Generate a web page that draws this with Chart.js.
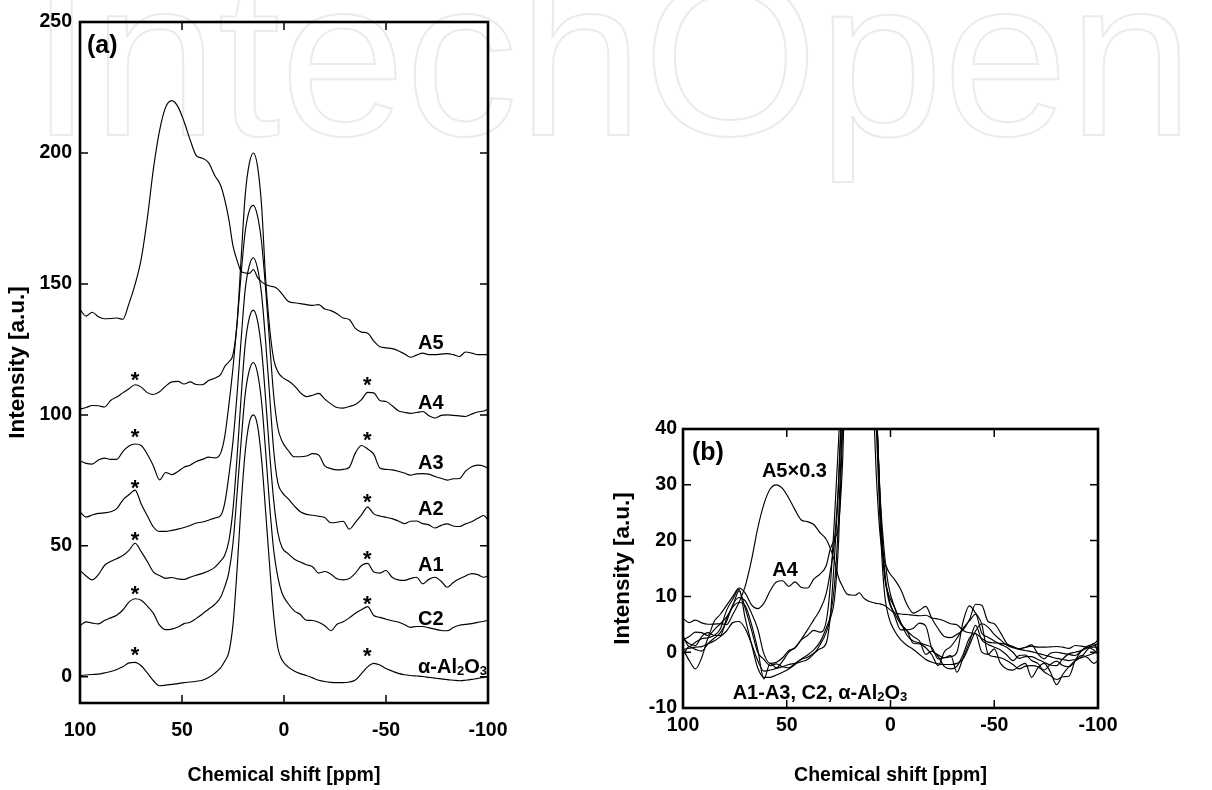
<!DOCTYPE html>
<html>
<head>
<meta charset="utf-8">
<title>27Al MAS NMR spectra</title>
<script src="https://cdn.jsdelivr.net/npm/chart.js@4.4.0/dist/chart.umd.min.js"></script>
<style>
  html, body { margin: 0; padding: 0; background: #fff; }
  body { width: 1212px; height: 790px; position: relative; overflow: hidden; }
  #watermark {
    position: absolute; left: 30px; top: -55px;
    font: 225px/225px "Liberation Sans", Arial, sans-serif;
    color: transparent; -webkit-text-stroke: 2px #ebebeb;
    white-space: nowrap;
  }
  #panelA { position: absolute; left: 0; top: 0; }
  #panelB { position: absolute; left: 600px; top: 380px; }
</style>
</head>
<body>
<div id="watermark">IntechOpen</div>
<canvas id="panelA" width="600" height="790"></canvas>
<canvas id="panelB" width="612" height="410"></canvas>
<script>
// chemical shift grid [ppm], shared by all spectra
var shiftPpm = [100, 97, 94, 91, 88, 85, 82, 79, 76, 73,
  70, 67, 64, 61, 58, 55, 52, 49, 46, 43,
  40, 37, 34, 31, 29, 27, 25, 23, 21, 19,
  17, 15, 13, 11, 9, 7, 5, 3, 1, -2,
  -5, -8, -11, -14, -17, -20, -23, -26, -29, -32,
  -35, -38, -41, -44, -47, -50, -53, -56, -59, -62,
  -65, -68, -71, -74, -77, -80, -83, -86, -89, -92,
  -95, -98, -100];

// spectra without stacking offset (peak at 15 ppm = 100)
var alumina = [0.5, 0.7, 0.9, 1.0, 1.5, 2.0, 2.8, 3.8, 5.3, 5.5,
  4.2, 1.5, -1.5, -3.4, -3.2, -2.9, -2.6, -2.2, -2.0, -1.7,
  -1.3, -0.3, 1.3, 3.5, 6.0, 9.5, 20, 41, 66, 86,
  97, 100, 96, 83, 63, 42, 23, 11, 6.5, 3.8,
  2.2, 1.2, 0.5, -0.4, -1.3, -1.8, -2.1, -2.2, -2.2, -2.0,
  -1.2, 1.2, 3.8, 5.1, 4.5, 3.2, 2.2, 1.3, 0.8, 0.5,
  0.3, 0.1, -0.2, -0.5, -0.8, -1.1, -1.3, -1.5, -1.3, -1.0,
  -0.6, -0.2, 0.1];
var c2 = [-0.5, 1.0, 0.5, 0.2, 1.5, 2.5, 3.5, 5.5, 8.5, 9.8,
  9.2, 7.0, 4.2, -0.3, -2.0, -1.8, -1.0, 0.3, 0.8, 2.3,
  4.0, 5.8, 7.6, 10.5, 14.5, 20, 31, 50, 70, 88,
  97, 100, 96, 85, 66, 45, 28, 18, 12, 8,
  5.2, 3.8, 1.6, 1.5, 0.8, -0.5, -2.4, 0.1, 1.0, 2.5,
  4.3, 5.6, 6.8, 3.4, 2.7, 2.0, 1.4, 0.9, 0.0, -1.1,
  -0.8, -0.8, -1.3, -1.8, -2.3, -2.4, -1.2, -0.3, 0.0, 0.3,
  0.8, 1.2, 1.5];
var a1 = [0.6, -1.5, -3.0, -1.0, 2.5, 4.0, 5.1, 6.3, 8.3, 11.0,
  7.8, 4.0, 0.0, -1.3, -2.4, -2.1, -2.6, -2.8, -2.0, -1.2,
  -0.5, 0.4, 1.8, 4.3, 6.5, 12, 24, 44, 67, 87,
  97, 100, 96, 85, 66, 45, 27, 15, 9.5, 7.0,
  5.0, 3.8, 2.8, 2.0, -0.4, 0.2, -0.8, -2.6, -3.0, -2.5,
  -0.4, 2.5, 3.3, 0.0, -0.4, 0.6, -2.0, -3.0, -3.2, -2.5,
  -2.0, -4.5, -2.8, -2.0, -3.5, -5.8, -4.0, -2.6, -1.5, -0.6,
  -1.0, -2.0, -1.5];
var a2 = [2.9, 1.0, 1.8, 2.4, 2.6, 3.0, 4.2, 7.5, 9.5, 11.3,
  6.0, 1.5, -2.8, -4.5, -4.5, -4.1, -3.6, -3.0, -2.2, -1.3,
  -0.9, -0.2, 0.6, 1.6, 6.5, 17, 30, 48, 69, 88,
  97, 100, 96, 86, 68, 47, 26, 14, 10.5, 8,
  5.3, 3.0, 2.0, 1.7, 1.3, 0.8, -1.2, -1.0, -0.6, -3.6,
  -1.0, 1.8, 4.8, 2.2, 1.4, 0.9, 0.4, -0.5, -1.5, -0.6,
  -0.5, -1.5, -2.0, -3.2, -2.2, -1.6, -2.4, -2.6, -1.6, -0.8,
  0.5, 1.6, -0.2];
var a3 = [2.5, 1.5, 1.2, 2.8, 3.5, 3.0, 3.0, 6.0, 8.1, 8.9,
  8.3, 5.0, 0.5, -4.8, -2.0, -2.8, -1.6, 0.0, 0.8, 2.2,
  3.0, 3.9, 3.6, 5.5, 12, 24, 38, 55, 74, 90,
  98, 100, 96, 86, 68, 47, 27, 15, 10, 6.5,
  4.0, 4.0, 4.3, 5.2, 4.7, 0.5, -0.5, -1.0, -0.8, 0.0,
  5.5, 8.3, 7.0, 5.0, -0.3, -0.8, -1.0, -1.5, -2.2, -3.0,
  -2.5, -2.4, -2.6, -3.5, -4.2, -4.9, -4.4, -4.3, -1.5, 0.2,
  0.8, 0.4, -0.4];
var a4 = [2.2, 2.8, 3.6, 3.5, 3.0, 5.5, 6.8, 8.4, 10.0, 11.5,
  10.6, 8.5, 7.8, 8.8, 11.0, 12.6, 12.8, 11.8, 12.6, 11.6,
  11.5, 13.1, 14.0, 15.5, 18.5, 20.3, 23, 35, 60, 84,
  96, 100, 95, 80, 52, 33, 21, 16.5, 14.5, 13.0,
  11.2, 8.5, 7.0, 7.5, 8.2, 6.0, 4.2, 2.8, 2.6, 3.2,
  4.0, 5.8, 8.6, 8.4, 5.5, 5.1, 3.5, 1.6, 1.0, 0.6,
  0.9, 1.3, -0.3, -1.2, -0.2, 0.0, -0.2, -0.4, -0.6, 0.3,
  1.1, 1.5, 2.2];
var a5 = [20.2, 17.7, 19.2, 17.5, 16.7, 16.8, 17.0, 16.5, 22.5, 29.8,
  39.5, 55, 74, 88.5, 97.5, 100, 97.7, 92, 85, 79,
  78, 76.3, 71.5, 67.5, 62, 54.5, 44.5, 39, 34.8, 34.2,
  34, 35.5, 32.5, 30.8, 29.8, 29.2, 28.9, 28, 26.2, 23.4,
  22.8, 22.5, 22.1, 21.8, 22.1, 20.4, 19.8, 18.6, 17.0, 16.4,
  13.0, 11.6, 11.2, 8.2, 6.0, 5.6, 5.3, 4.5, 3.3, 2.0,
  2.8, 3.6, 3.0, 3.0, 3.2, 3.4, 3.0, 2.3, 4.0, 3.6,
  3.0, 3.0, 3.0];

var sampleNames = ['α-Al2O3', 'C2', 'A1', 'A2', 'A3', 'A4', 'A5'];
var stackOffset = [0, 20, 40, 60, 80, 100, 120];
var a5Scale = 0.3;

var xTicks = [100, 50, 0, -50, -100];
var yTicksA = [0, 50, 100, 150, 200, 250];
var yTicksB = [-10, 0, 10, 20, 30, 40];

// spinning sideband markers (*) above each stacked trace
var starShift = [73, -40.8];
var starLeft = [10.6, 33.6, 54.4, 74.1, 93.6, 115.3];
var starRight = [10.2, 29.8, 47.2, 68.7, 92.7, 113.4];

var FONT = '"Liberation Sans", Arial, Helvetica, sans-serif';
Chart.defaults.font.family = FONT;
Chart.defaults.color = '#000';

var spectra = [alumina, c2, a1, a2, a3, a4, a5];

function lineSet(values, shift, scale) {
  return {
    data: shiftPpm.map(function(x, i) { return {x: x, y: values[i] * scale + shift}; }),
    borderColor: '#000',
    borderWidth: 1.15,
    pointRadius: 0,
    cubicInterpolationMode: 'monotone',
    fill: false
  };
}

// draws the heavy frame and inward tick marks on all four sides
var frameTicks = {
  id: 'frameTicks',
  afterDatasetsDraw: function(chart) {
    var ctx = chart.ctx, a = chart.chartArea, sx = chart.scales.x, sy = chart.scales.y;
    var len = 8;
    ctx.save();
    ctx.strokeStyle = '#000';
    ctx.lineWidth = 1.5;
    ctx.beginPath();
    sx.ticks.forEach(function(t) {
      var p = sx.getPixelForValue(t.value);
      if (p - a.left < 3 || a.right - p < 3) return;
      ctx.moveTo(p, a.bottom); ctx.lineTo(p, a.bottom - len);
      ctx.moveTo(p, a.top); ctx.lineTo(p, a.top + len);
    });
    sy.ticks.forEach(function(t) {
      var p = sy.getPixelForValue(t.value);
      if (p - a.top < 3 || a.bottom - p < 3) return;
      ctx.moveTo(a.left, p); ctx.lineTo(a.left + len, p);
      ctx.moveTo(a.right, p); ctx.lineTo(a.right - len, p);
    });
    ctx.stroke();
    ctx.lineWidth = 2.6;
    ctx.strokeRect(a.left, a.top, a.right - a.left, a.bottom - a.top);
    ctx.restore();
  }
};

// text that may carry subscripts written as _2
function drawRich(ctx, text, x, y, size, align) {
  var parts = [];
  var re = /_(\d)/g, last = 0, m;
  while ((m = re.exec(text)) !== null) {
    if (m.index > last) parts.push({t: text.slice(last, m.index), sub: false});
    parts.push({t: m[1], sub: true});
    last = re.lastIndex;
  }
  if (last < text.length) parts.push({t: text.slice(last), sub: false});
  var big = 'bold ' + size + 'px ' + FONT, small = 'bold ' + Math.round(size * 0.66) + 'px ' + FONT;
  var w = 0;
  parts.forEach(function(p) { ctx.font = p.sub ? small : big; p.w = ctx.measureText(p.t).width; w += p.w; });
  var cx = align === 'center' ? x - w / 2 : x;
  ctx.textAlign = 'left';
  ctx.textBaseline = 'alphabetic';
  var base = y + size * 0.36;
  parts.forEach(function(p) {
    ctx.font = p.sub ? small : big;
    ctx.fillText(p.t, cx, p.sub ? base + 1.5 : base);
    cx += p.w;
  });
}

var textMarks = {
  id: 'textMarks',
  afterDatasetsDraw: function(chart, args, opts) {
    var ctx = chart.ctx, a = chart.chartArea, sx = chart.scales.x, sy = chart.scales.y;
    ctx.save();
    ctx.fillStyle = '#000';
    if (opts.panel) {
      ctx.font = 'bold 25px ' + FONT;
      ctx.textAlign = 'left';
      ctx.textBaseline = 'middle';
      ctx.fillText(opts.panel, a.left + opts.panelDx, a.top + 24);
    }
    (opts.labels || []).forEach(function(l) {
      drawRich(ctx, l.text, sx.getPixelForValue(l.x), sy.getPixelForValue(l.y), 20, l.align);
    });
    if (opts.stars) {
      ctx.font = 'bold 22px ' + FONT;
      ctx.textAlign = 'center';
      ctx.textBaseline = 'alphabetic';
      [starLeft, starRight].forEach(function(list, k) {
        list.forEach(function(v) {
          ctx.fillText('*', sx.getPixelForValue(starShift[k]), sy.getPixelForValue(v) + 12.5);
        });
      });
    }
    ctx.restore();
  }
};

function axisOptions(o) {
  return {
    x: {
      type: 'linear', min: -100, max: 100, reverse: true,
      afterBuildTicks: function(s) { s.ticks = xTicks.map(function(v) { return {value: v}; }); },
      afterFit: function(s) { s.height = o.xHeight; },
      grid: {display: false, drawTicks: false},
      border: {display: false},
      ticks: {font: {size: 19.5, weight: 'bold'}, padding: o.xPad, color: '#000', maxRotation: 0},
      title: {display: true, text: 'Chemical shift [ppm]', color: '#000',
        font: {size: 19.5, weight: 'bold'}, padding: {top: 0, bottom: 2.3}}
    },
    y: {
      type: 'linear', min: o.yMin, max: o.yMax,
      afterBuildTicks: function(s) { s.ticks = o.yTicks.map(function(v) { return {value: v}; }); },
      afterFit: function(s) { s.width = o.yWidth; },
      grid: {display: false, drawTicks: false},
      border: {display: false},
      ticks: {font: {size: 19.5, weight: 'bold'}, padding: o.yPad, color: '#000'},
      title: {display: true, text: 'Intensity [a.u.]', color: '#000',
        font: {size: 22.5, weight: 'bold'}, padding: {top: o.yTitlePad, bottom: 0}}
    }
  };
}

// panel (a): stacked spectra
new Chart(document.getElementById('panelA'), {
  type: 'line',
  data: {
    datasets: spectra.map(function(s, i) { return lineSet(s, stackOffset[i], 1); })
  },
  options: {
    responsive: false,
    animation: false,
    devicePixelRatio: 1,
    layout: {padding: {left: 0, right: 112, top: 22, bottom: 0}},
    scales: axisOptions({xHeight: 87, xPad: 15.6, yMin: -10, yMax: 250, yTicks: yTicksA,
      yWidth: 80, yPad: 8, yTitlePad: 4.5}),
    plugins: {
      legend: {display: false},
      tooltip: {enabled: false},
      textMarks: {
        panel: '(a)', panelDx: 7, stars: true,
        labels: [
          {text: sampleNames[6], x: -65.7, y: 128, align: 'left'},
          {text: sampleNames[5], x: -65.7, y: 105, align: 'left'},
          {text: sampleNames[4], x: -65.7, y: 82, align: 'left'},
          {text: sampleNames[3], x: -65.7, y: 64.4, align: 'left'},
          {text: sampleNames[2], x: -65.7, y: 43, align: 'left'},
          {text: sampleNames[1], x: -65.7, y: 22.6, align: 'left'},
          {text: 'α-Al_2O_3', x: -65.7, y: 4.2, align: 'left'}
        ]
      }
    }
  },
  plugins: [frameTicks, textMarks]
});

// panel (b): overlaid spectra, A5 scaled by 0.3
new Chart(document.getElementById('panelB'), {
  type: 'line',
  data: {
    datasets: spectra.map(function(s, i) { return lineSet(s, 0, i === 6 ? a5Scale : 1); })
  },
  options: {
    responsive: false,
    animation: false,
    devicePixelRatio: 1,
    layout: {padding: {left: 0, right: 114, top: 49, bottom: 0}},
    scales: axisOptions({xHeight: 82, xPad: 5.6, yMin: -10, yMax: 40, yTicks: yTicksB,
      yWidth: 83, yPad: 6, yTitlePad: 9.5}),
    plugins: {
      legend: {display: false},
      tooltip: {enabled: false},
      textMarks: {
        panel: '(b)', panelDx: 9, stars: false,
        labels: [
          {text: 'A5×0.3', x: 46.3, y: 32.7, align: 'center'},
          {text: 'A4', x: 50.8, y: 15, align: 'center'},
          {text: 'A1-A3, C2, α-Al_2O_3', x: 34, y: -7.1, align: 'center'}
        ]
      }
    }
  },
  plugins: [frameTicks, textMarks]
});
</script>
</body>
</html>
